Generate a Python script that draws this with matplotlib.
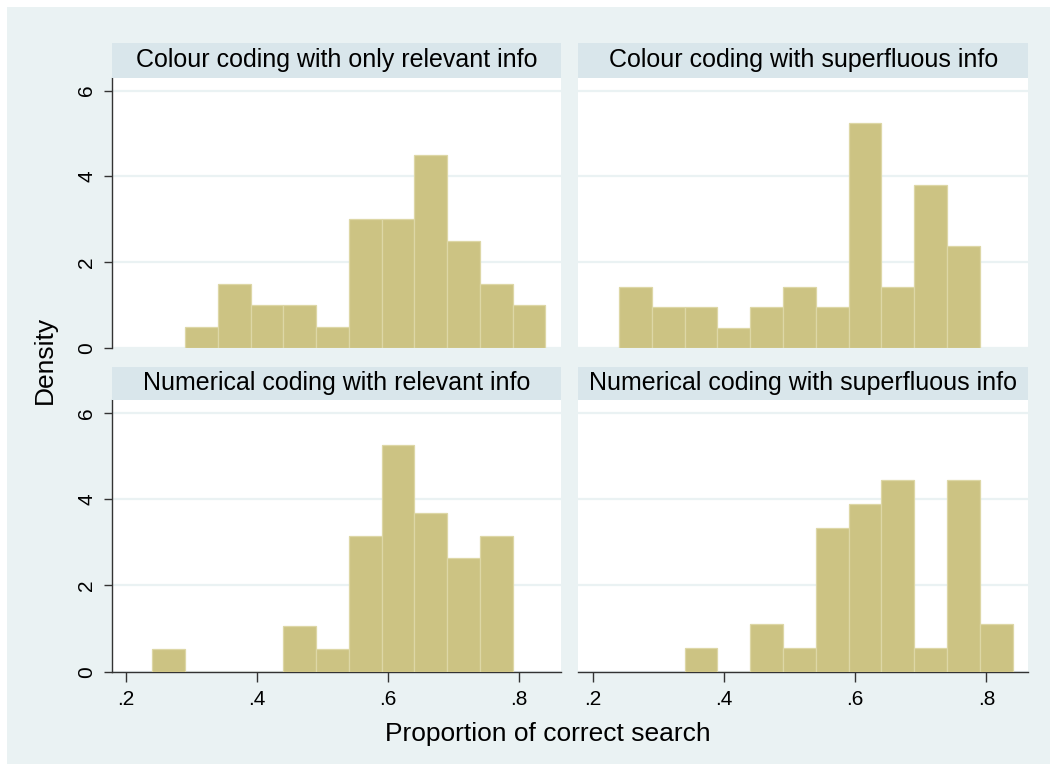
import numpy as np
import matplotlib
matplotlib.use("Agg")
import matplotlib.pyplot as plt
from matplotlib.patches import Rectangle

plt.rcParams['font.family'] = ['Liberation Sans', 'DejaVu Sans']

# data: bin start, bin width and counts per panel
titles = ["Colour coding with only relevant info",
          "Colour coding with superfluous info",
          "Numerical coding with relevant info",
          "Numerical coding with superfluous info"]
bin_width = 0.05
bin_starts = [0.29, 0.24, 0.24, 0.34]
counts_cr = [1, 3, 2, 2, 1, 6, 6, 9, 5, 3, 2]
counts_cs = [3, 2, 2, 1, 2, 3, 2, 11, 3, 8, 5]
counts_nr = [1, 0, 0, 0, 2, 1, 6, 10, 7, 5, 6]
counts_ns = [1, 0, 2, 1, 6, 7, 8, 1, 8, 2]
all_counts = [counts_cr, counts_cs, counts_nr, counts_ns]
xticks = [0.2, 0.4, 0.6, 0.8]
xticklabels = [".2", ".4", ".6", ".8"]
yticks = [0, 2, 4, 6]

W, H = 1057, 771
bg = '#EAF2F3'
strip_col = '#D9E6EB'
bar_col = '#CCC383'
bar_edge = '#DDD7A6'

fig = plt.figure(figsize=(W / 100, H / 100), dpi=100)
fig.patch.set_facecolor('white')

# outer light background
bax = fig.add_axes([0, 0, 1, 1], zorder=-10)
bax.set_xlim(0, W)
bax.set_ylim(H, 0)
bax.axis('off')
bax.add_patch(Rectangle((7, 7), W - 14, H - 14, facecolor=bg, edgecolor='none'))

cols = [(111.7, 449.3), (578.3, 450.0)]
rows = [(43.3, 77.7, 348.3), (366.7, 400.0, 671.7)]

for i in range(4):
    r, c = divmod(i, 2)
    x0, w = cols[c]
    s_top, p_top, p_bot = rows[r]
    ax = fig.add_axes([x0 / W, 1 - p_bot / H, w / W, (p_bot - p_top) / H])
    ax.set_facecolor('white')

    cnt = np.array(all_counts[i], dtype=float)
    edges = bin_starts[i] + bin_width * np.arange(len(cnt) + 1)
    centers = (edges[:-1] + edges[1:]) / 2
    ax.hist(centers, bins=edges, weights=cnt, density=True,
            facecolor=bar_col, edgecolor=bar_edge, linewidth=0.9, zorder=3)

    ax.set_xlim(0.178, 0.864)
    ax.set_ylim(0, 6.30)
    ax.set_yticks(yticks)
    ax.yaxis.grid(True, color=bg, linewidth=1.6, zorder=1)
    ax.set_axisbelow(True)
    for sp in ['top', 'right']:
        ax.spines[sp].set_visible(False)
    ax.spines['left'].set_visible(c == 0)
    ax.spines['bottom'].set_visible(r == 1)
    for sp in ['left', 'bottom']:
        ax.spines[sp].set_color('#333333')
        ax.spines[sp].set_linewidth(1.0)

    ax.set_xticks(xticks)
    if r == 1:
        ax.set_xticklabels(xticklabels, fontsize=15)
        ax.tick_params(axis='x', length=7, width=1, color='#333333', pad=6)
    else:
        ax.tick_params(axis='x', length=0, labelbottom=False)
    if c == 0:
        ax.set_yticklabels([str(t) for t in yticks], fontsize=15,
                           rotation=90, va='center')
        ax.tick_params(axis='y', length=6, width=1, color='#333333', pad=5)
    else:
        ax.tick_params(axis='y', length=0, labelleft=False)

    # panel title strip
    sax = fig.add_axes([x0 / W, 1 - p_top / H, w / W, (p_top - s_top) / H])
    sax.set_facecolor(strip_col)
    sax.set_xticks([])
    sax.set_yticks([])
    for sp in sax.spines.values():
        sp.set_visible(False)
    sax.text(0.5, 0.5, titles[i], ha='center', va='center', fontsize=18,
             transform=sax.transAxes)

fig.text(548 / W, 1 - 734 / H, "Proportion of correct search",
         ha='center', va='center', fontsize=19)
fig.text(45 / W, 1 - 360 / H, "Density", ha='center', va='center',
         fontsize=19, rotation=90)

fig.savefig("out.png", dpi=100, facecolor=fig.get_facecolor())
